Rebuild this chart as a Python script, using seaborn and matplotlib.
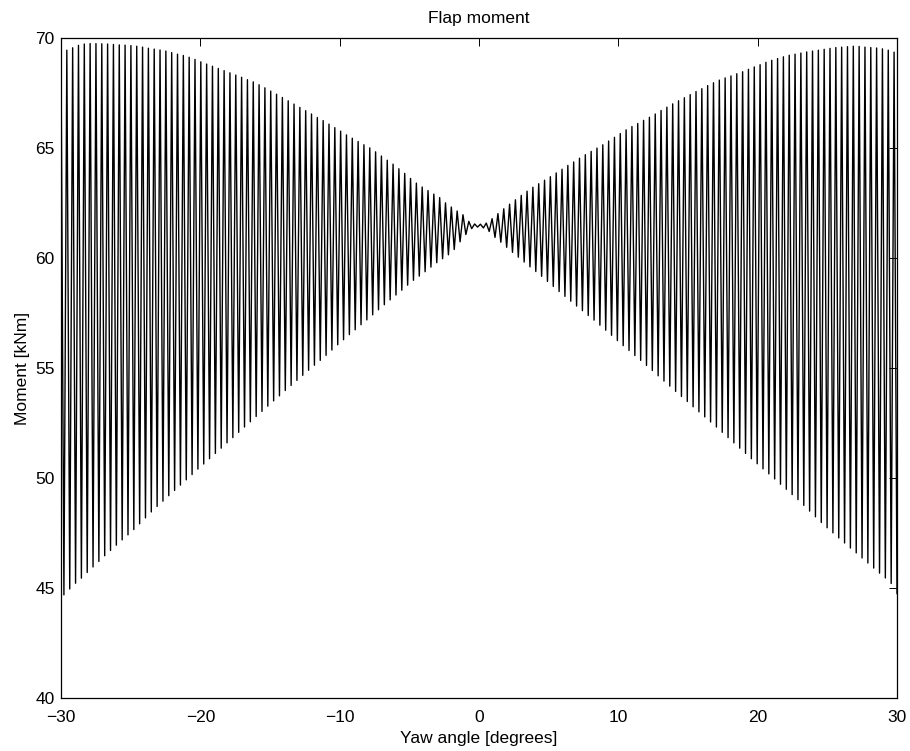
import numpy as np
import pandas as pd
import matplotlib
matplotlib.use("Agg")
import matplotlib.pyplot as plt
import seaborn as sns

# Flap moment envelope of the yaw sweep: one maximum and one minimum per rotor cycle
yaw_start, yaw_end = -30.0, 30.0

peak_moment = [
    69.33, 69.46, 69.57, 69.68, 69.74, 69.76, 69.76, 69.75, 69.74, 69.72,
    69.70, 69.69, 69.67, 69.64, 69.60, 69.55, 69.51, 69.47, 69.42, 69.35,
    69.28, 69.22, 69.14, 69.04, 68.93, 68.83, 68.73, 68.63, 68.53, 68.43,
    68.33, 68.23, 68.12, 68.02, 67.89, 67.75, 67.60, 67.46, 67.31, 67.16,
    67.01, 66.86, 66.71, 66.56, 66.40, 66.26, 66.10, 65.94, 65.78, 65.61,
    65.46, 65.31, 65.16, 65.02, 64.84, 64.65, 64.46, 64.28, 64.07, 63.86,
    63.63, 63.42, 63.24, 63.08, 62.92, 62.76, 62.52, 62.33, 62.15, 61.98,
    61.68, 61.56, 61.55, 61.60, 61.80, 62.03, 62.25, 62.46, 62.66, 62.86,
    63.05, 63.23, 63.39, 63.55, 63.71, 63.88, 64.05, 64.22, 64.38, 64.55,
    64.71, 64.86, 65.01, 65.16, 65.33, 65.50, 65.67, 65.84, 65.99, 66.13,
    66.27, 66.41, 66.56, 66.72, 66.87, 67.02, 67.16, 67.30, 67.44, 67.58,
    67.71, 67.85, 67.98, 68.10, 68.20, 68.29, 68.39, 68.48, 68.59, 68.70,
    68.80, 68.91, 69.00, 69.08, 69.16, 69.23, 69.28, 69.33, 69.38, 69.42,
    69.46, 69.50, 69.54, 69.58, 69.60, 69.62, 69.64, 69.63, 69.60, 69.58,
    69.56, 69.52, 69.46, 69.37,
]

trough_moment = [
    44.70, 44.97, 45.23, 45.46, 45.72, 45.97, 46.22, 46.48, 46.72, 46.96,
    47.20, 47.43, 47.67, 47.93, 48.20, 48.47, 48.72, 48.96, 49.21, 49.45,
    49.69, 49.93, 50.17, 50.42, 50.65, 50.89, 51.13, 51.37, 51.61, 51.85,
    52.09, 52.33, 52.57, 52.81, 53.04, 53.28, 53.52, 53.75, 53.99, 54.22,
    54.45, 54.68, 54.91, 55.14, 55.36, 55.59, 55.83, 56.07, 56.30, 56.53,
    56.75, 56.98, 57.20, 57.43, 57.66, 57.89, 58.11, 58.33, 58.55, 58.78,
    59.00, 59.19, 59.39, 59.60, 59.80, 59.98, 60.16, 60.40, 60.75, 61.08,
    61.35, 61.42, 61.38, 61.22, 60.95, 60.73, 60.50, 60.27, 60.05, 59.83,
    59.61, 59.40, 59.18, 58.95, 58.72, 58.49, 58.27, 58.05, 57.83, 57.62,
    57.40, 57.19, 56.96, 56.73, 56.50, 56.26, 56.03, 55.81, 55.58, 55.36,
    55.13, 54.90, 54.66, 54.42, 54.19, 53.95, 53.72, 53.49, 53.25, 53.02,
    52.79, 52.56, 52.33, 52.09, 51.85, 51.61, 51.37, 51.13, 50.89, 50.66,
    50.43, 50.20, 49.97, 49.73, 49.50, 49.26, 49.03, 48.77, 48.51, 48.25,
    47.99, 47.75, 47.52, 47.29, 47.06, 46.83, 46.61, 46.38, 46.15, 45.92,
    45.69, 45.47, 45.22, 44.75,
]

x_ticks = [-30, -20, -10, 0, 10, 20, 30]
y_ticks = [40, 45, 50, 55, 60, 65, 70]

# interleave maxima and minima along an evenly sampled yaw grid
n_ext = len(peak_moment) + len(trough_moment)
yaw = np.linspace(yaw_start, yaw_end, n_ext)
moment = np.empty(n_ext)
moment[0::2] = peak_moment
moment[1::2] = trough_moment
df = pd.DataFrame({"yaw": yaw, "moment": moment})

sns.set_theme(style="white")
plt.rcParams["font.family"] = ["Liberation Sans", "DejaVu Sans"]
plt.rcParams["axes.unicode_minus"] = True

fs = 12.5
fig = plt.figure(figsize=(9.10, 7.51), dpi=100)
ax = fig.add_axes([61 / 910, 52.7 / 751, 836 / 910, 660 / 751])

sns.lineplot(data=df, x="yaw", y="moment", sort=False, estimator=None,
             color="black", linewidth=1.0, ax=ax, legend=False)

ax.set_xlim(-30, 30)
ax.set_ylim(40, 70)
ax.set_xticks(x_ticks)
ax.set_yticks(y_ticks)
ax.set_xticklabels([f"{v}".replace("-", "\u2212") for v in x_ticks])
ax.set_yticklabels([str(v) for v in y_ticks])

for s in ax.spines.values():
    s.set_visible(True)
    s.set_color("black")
    s.set_linewidth(0.9)

ax.tick_params(axis="both", which="major", direction="in", length=6,
               width=0.7, color="black", top=True, right=True,
               labelsize=fs, labelcolor="black")
ax.tick_params(axis="x", pad=8.5)
ax.tick_params(axis="y", pad=4.5)

ax.set_title("Flap moment", fontsize=fs, color="black", pad=11)
ax.set_xlabel("Yaw angle [degrees]", fontsize=fs, color="black", labelpad=4)
ax.set_ylabel("Moment [kNm]", fontsize=fs, color="black", labelpad=3.5)
ax.grid(False)

fig.savefig("out.png", dpi=100, facecolor="white")
